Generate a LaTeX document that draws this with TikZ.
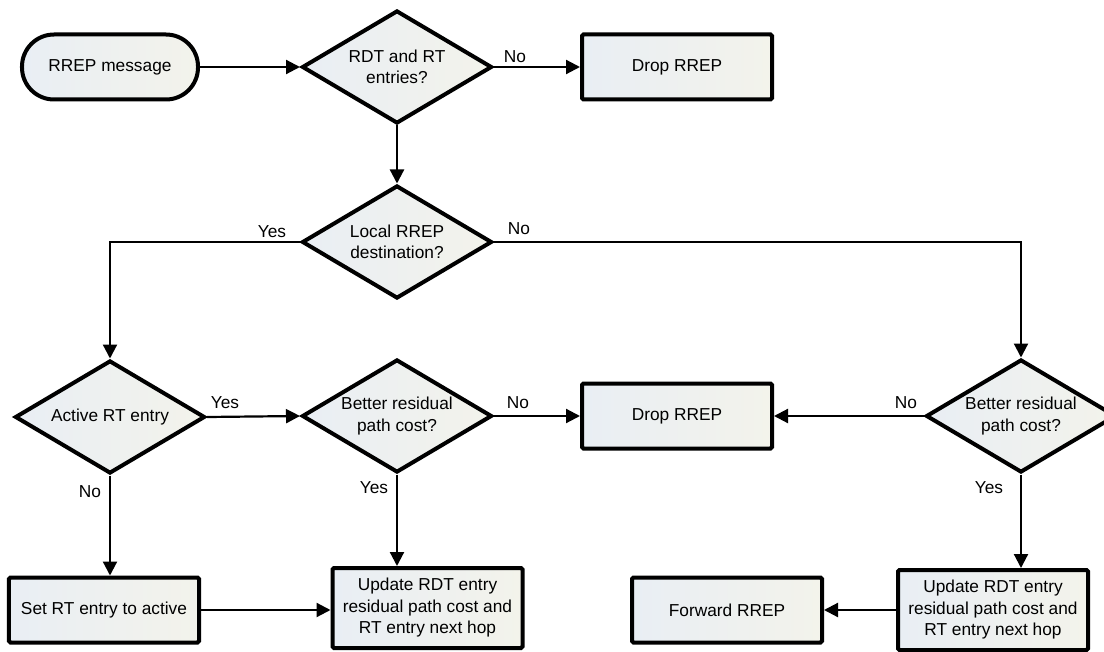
\documentclass[tikz,border=0pt]{standalone}
\usepackage{fontspec}
\setmainfont{Liberation Sans}
\usetikzlibrary{shapes.geometric,arrows.meta}
\definecolor{fillA}{HTML}{E9EEF4}
\definecolor{fillB}{HTML}{F3F3EB}
\begin{document}
\begin{tikzpicture}[x=1bp,y=-1bp,
  font=\fontsize{17.3bp}{21.5bp}\selectfont,
  shapebase/.style={draw=black, line width=4bp, left color=fillA, right color=fillB, inner sep=0pt, align=center},
  procbox/.style={shapebase, rectangle, rounded corners=1.5bp, minimum width=190bp, minimum height=65bp},
  updbox/.style={procbox, minimum height=80bp},
  decision/.style={shapebase, diamond, minimum width=190bp, minimum height=113bp},
  terminal/.style={shapebase, rectangle, rounded corners=32bp, minimum width=176bp, minimum height=65bp},
  conn/.style={line width=2.2bp, -{Triangle[length=14bp,width=14bp]}},
  lbl/.style={inner sep=0pt}]
\useasboundingbox (0,0) rectangle (1104,652);

% nodes
\node[terminal] (start) at (110,67) {RREP message};
\node[decision, label={[lbl,align=center]center:RDT and RT\\entries?}] (d1) at (397,67) {};
\node[procbox] (drop1) at (677,67) {Drop RREP};
\node[decision, label={[lbl,align=center]center:Local RREP\\destination?}] (d2) at (397,242) {};
\node[decision, label={[lbl,align=center]center:Active RT entry}] (d3) at (110,417) {};
\node[decision, label={[lbl,align=center]center:Better residual\\path cost?}] (d4) at (397,416) {};
\node[procbox] (drop2) at (677,416) {Drop RREP};
\node[decision, label={[lbl,align=center]center:Better residual\\path cost?}] (d5) at (1021,416) {};
\node[procbox] (setrt) at (104,610) {Set RT entry to active};
\node[updbox] (upd1) at (427.5,608) {Update RDT entry\\residual path cost and\\RT entry next hop};
\node[updbox] (upd2) at (993,610) {Update RDT entry\\residual path cost and\\RT entry next hop};
\node[procbox] (fwd) at (727,610) {Forward RREP};

% connectors
\draw[conn] (start.east) -- (d1.west);
\draw[conn] (d1.east) -- (drop1.west);
\draw[conn] (d1.south) -- (d2.north);
\draw[conn] (d2.west) -| (d3.north);
\draw[conn] (d2.east) -| (d5.north);
\draw[conn] (d3.east) -- (d4.west);
\draw[conn] (d3.south) -- (d3.south |- setrt.north);
\draw[conn] (d4.east) -- (drop2.west);
\draw[conn] (d4.south) -- (d4.south |- upd1.north);
\draw[conn] (setrt.east) -- (setrt.east -| upd1.west);
\draw[conn] (d5.west) -- (drop2.east);
\draw[conn] (d5.south) -- (d5.south |- upd2.north);
\draw[conn] (upd2.west) -- (fwd.east);

% labels
\node[lbl] (l1) at (515,57) {No};
\node[lbl] (l2) at (272,232) {Yes};
\node[lbl] (l3) at (519,229) {No};
\node[lbl] (l4) at (225,403) {Yes};
\node[lbl] (l5) at (90,492) {No};
\node[lbl] (l6) at (518,403) {No};
\node[lbl] (l7) at (374,488) {Yes};
\node[lbl] (l8) at (906,403) {No};
\node[lbl] (l9) at (989,488) {Yes};
\end{tikzpicture}
\end{document}
